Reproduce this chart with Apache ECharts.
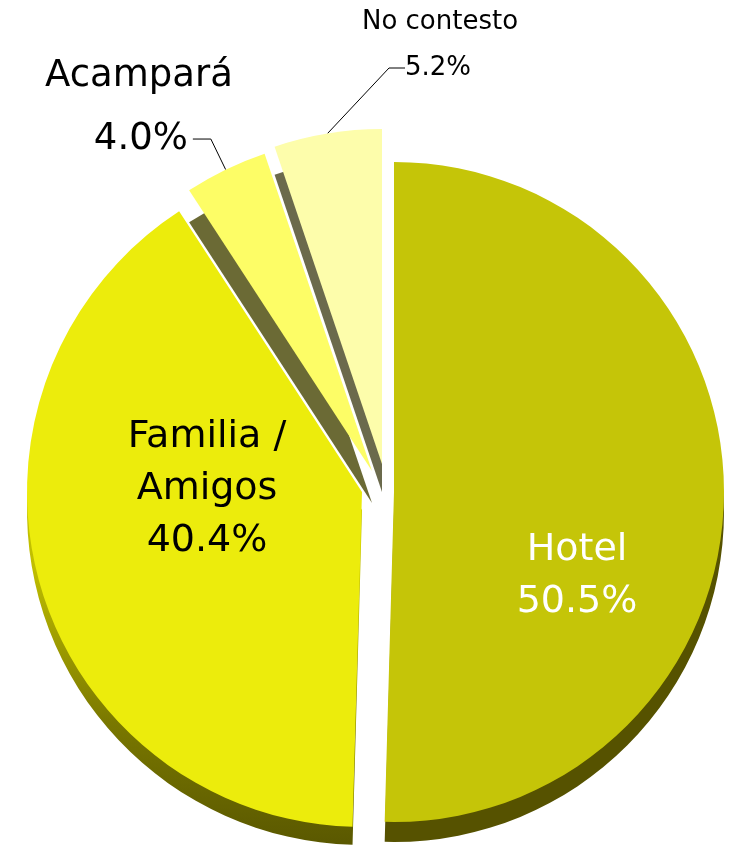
<!DOCTYPE html>
<html>
<head>
<meta charset="utf-8">
<script src="https://cdn.jsdelivr.net/npm/echarts@6/dist/echarts.min.js"></script>
<style>
  html, body { margin: 0; padding: 0; background: #ffffff; }
  #chart { width: 737px; height: 846px; }
</style>
</head>
<body>
<div id="chart"></div>
<script>
// ---- data ----
const categories = ['Hotel', 'Familia / Amigos', 'Acampará', 'No contesto'];
const labelNames = ['Hotel', 'Familia /\nAmigos', 'Acampará', 'No contesto'];
const values = [50.5, 40.4, 4.0, 5.2];

// ---- styling ----
const FONT = 'DejaVu Sans';
const faceColors = ['#c5c508', '#ecec0c', '#fdfd66', '#fdfdab'];
const sideColors = [
  '#565200',
  new echarts.graphic.LinearGradient(0, 0, 0, 1, [
    { offset: 0, color: '#d2d200' },
    { offset: 0.55, color: '#c0be00' },
    { offset: 0.8, color: '#7a7800' },
    { offset: 1, color: '#5a5800' }
  ]),
  '#6b6a35',
  '#6b6a4c'
];
// exploded slice centres, radii and 3D depth
const centers = [[394, 492], [362, 492], [372, 471], [382, 464]];
const radii = [330, 335, 335, 335];
const depth = [20, 18, 32, 28];

const pct = v => v.toFixed(1) + '%';

function buildData(i, color, showLabel, showLine) {
  return categories.map((c, j) => ({
    name: c,
    value: values[j],
    itemStyle: { color: j === i ? color : 'rgba(0,0,0,0)' },
    label: { show: showLabel && j === i },
    labelLine: { show: showLine && j === i }
  }));
}

const base = {
  type: 'pie',
  startAngle: 90,
  clockwise: true,
  avoidLabelOverlap: false,
  silent: true,
  animation: false,
  minAngle: 0,
  emphasis: { disabled: true }
};

// label configs for faces
const faceLabels = [
  { // Hotel
    label: {
      position: 'inside', color: '#ffffff', fontFamily: FONT, fontSize: 38, lineHeight: 52,
      formatter: p => labelNames[0] + '\n' + pct(values[0])
    },
    labelLayout: { x: 577, y: 576, align: 'center', verticalAlign: 'middle' }
  },
  { // Familia
    label: {
      position: 'inside', color: '#000000', fontFamily: FONT, fontSize: 38, lineHeight: 52,
      formatter: p => labelNames[1] + '\n' + pct(values[1])
    },
    labelLayout: { x: 207, y: 489, align: 'center', verticalAlign: 'middle' }
  },
  { // Acampará (percentage with leader)
    label: {
      position: 'outside', color: '#000000', fontFamily: FONT, fontSize: 37, lineHeight: 44,
      padding: [0, 0, 24, 0], distanceToLabelLine: 5,
      formatter: p => pct(values[2])
    },
    labelLine: { show: true, length: 34, length2: 18, lineStyle: { color: '#000000', width: 1 } }
  },
  { // No contesto (percentage with leader)
    label: {
      position: 'outside', color: '#000000', fontFamily: FONT, fontSize: 26, lineHeight: 30,
      padding: [0, 0, 26, 0],
      formatter: p => pct(values[3])
    },
    labelLine: { show: true, length: 20, length2: 16, lineStyle: { color: '#000000', width: 1 } },
    labelLayout: { x: 405, y: 68, align: 'left', verticalAlign: 'middle' }
  }
];

// name labels carried by side series for the two small slices
const sideLabels = [
  null, null,
  {
    label: { position: 'inside', color: '#000000', fontFamily: FONT, fontSize: 37, formatter: p => labelNames[2] },
    labelLayout: { x: 139, y: 76, align: 'center', verticalAlign: 'middle' }
  },
  {
    label: { position: 'inside', color: '#000000', fontFamily: FONT, fontSize: 26, formatter: p => labelNames[3] },
    labelLayout: { x: 440, y: 22, align: 'center', verticalAlign: 'middle' }
  }
];

const series = [];
categories.forEach((c, i) => {
  const s = sideLabels[i];
  series.push(Object.assign({}, base, {
    name: c + ' side',
    z: 1,
    center: [centers[i][0], centers[i][1] + depth[i]],
    radius: [0, radii[i]],
    data: buildData(i, sideColors[i], !!s, false),
    label: s ? s.label : { show: false },
    labelLine: { show: false },
    labelLayout: s ? s.labelLayout : undefined
  }));
});
categories.forEach((c, i) => {
  const f = faceLabels[i];
  series.push(Object.assign({}, base, {
    name: c,
    z: 2,
    center: centers[i],
    radius: [0, radii[i]],
    data: buildData(i, faceColors[i], true, !!f.labelLine),
    label: f.label,
    labelLine: f.labelLine || { show: false },
    labelLayout: f.labelLayout
  }));
});

const chart = echarts.init(document.getElementById('chart'), null, { renderer: 'canvas' });
chart.setOption({
  backgroundColor: '#ffffff',
  animation: false,
  series: series
});
</script>
</body>
</html>
